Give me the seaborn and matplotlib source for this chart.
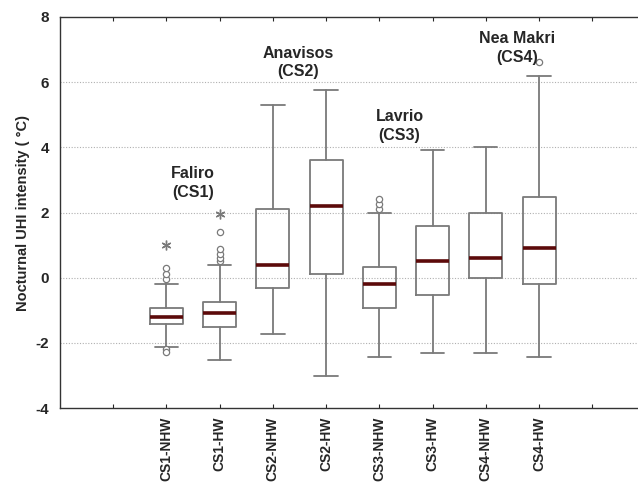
import matplotlib
matplotlib.use("Agg")
import matplotlib.pyplot as plt
import seaborn as sns

sns.set_style("white")
plt.rcParams['font.family'] = ['Liberation Sans', 'DejaVu Sans']

# box statistics
groups = ['CS1-NHW', 'CS1-HW', 'CS2-NHW', 'CS2-HW', 'CS3-NHW', 'CS3-HW', 'CS4-NHW', 'CS4-HW']
medians = [-1.2, -1.08, 0.4, 2.2, -0.19, 0.52, 0.61, 0.91]
q1s = [-1.42, -1.5, -0.31, 0.1, -0.93, -0.53, 0.0, -0.2]
q3s = [-0.93, -0.74, 2.1, 3.6, 0.33, 1.59, 2.0, 2.48]
whislo = [-2.12, -2.52, -1.72, -3.0, -2.43, -2.3, -2.3, -2.43]
whishi = [-0.19, 0.39, 5.3, 5.77, 1.99, 3.92, 4.01, 6.19]
outliers = [[-0.04, 0.12, 0.3, -2.2, -2.28],
            [0.5, 0.6, 0.73, 0.88, 1.4],
            [], [], [2.1, 2.26, 2.4], [], [], [6.62]]
extremes = [[1.0], [1.95], [], [], [], [], [], []]

# site names, placed at (x, y) of the text block centre
labels = {'Faliro\n(CS1)': (1.5, 2.9),
          'Anavisos\n(CS2)': (3.48, 6.6),
          'Lavrio\n(CS3)': (5.38, 4.66),
          'Nea Makri\n(CS4)': (7.58, 7.05)}

stats = []
for i, g in enumerate(groups):
    stats.append({'label': g, 'med': medians[i], 'q1': q1s[i], 'q3': q3s[i],
                  'whislo': whislo[i], 'whishi': whishi[i], 'fliers': outliers[i]})

fig = plt.figure(figsize=(6.38, 4.83), dpi=100)
ax = fig.add_axes([0.094, 0.155, 0.906, 0.81])

pos = list(range(1, len(groups) + 1))
gray = '#7a7a7a'
ax.bxp(stats, positions=pos, widths=0.62, capwidths=0.44, showfliers=True,
       boxprops=dict(color=gray, linewidth=1.3),
       whiskerprops=dict(color=gray, linewidth=1.3),
       capprops=dict(color=gray, linewidth=1.3),
       medianprops=dict(color='#5c0a0a', linewidth=2.6),
       flierprops=dict(marker='o', markersize=4.5, markerfacecolor='white',
                       markeredgecolor=gray, markeredgewidth=0.9))

for i, ex in enumerate(extremes):
    if ex:
        ax.plot([pos[i]] * len(ex), ex, linestyle='none', marker=(6, 2, 0),
                markersize=7, color=gray, markeredgewidth=1.0)

for txt, (x, y) in labels.items():
    ax.text(x, y, txt, ha='center', va='center', fontsize=11.5,
            fontweight='bold', linespacing=1.3)

ax.set_xlim(-1, 9.86)
ax.set_ylim(-4, 8)
ax.set_yticks([-4, -2, 0, 2, 4, 6, 8])
ax.set_yticklabels(['-4', '-2', '0', '2', '4', '6', '8'], fontsize=11, fontweight='bold')
ax.set_xticks(range(0, 10))
ax.set_xticklabels([''] + groups + [''], rotation=90, fontsize=10, fontweight='bold')
ax.tick_params(axis='x', direction='in', length=3, top=True, bottom=True, width=0.8, pad=6)
ax.tick_params(axis='y', length=0, pad=8)

for yv in [-2, 0, 2, 4, 6]:
    ax.axhline(yv, color='#b0b0b0', linestyle=(0, (1, 1.5)), linewidth=0.8, zorder=0)

for s in ['left', 'top', 'bottom']:
    ax.spines[s].set_color('#333333')
    ax.spines[s].set_linewidth(1.0)
ax.spines['right'].set_visible(False)

ax.set_ylabel('Nocturnal UHI intensity ( °C)', fontsize=10.5, fontweight='bold', labelpad=4)

fig.savefig('out.png', dpi=100)
